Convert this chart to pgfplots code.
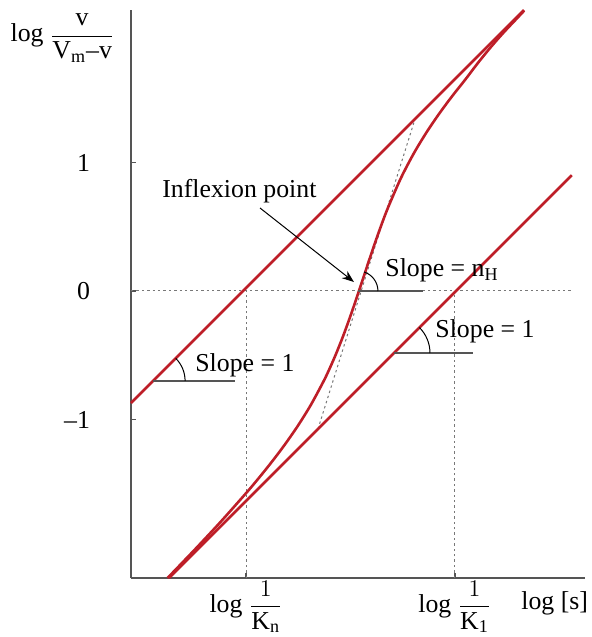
\documentclass[border=0pt]{standalone}
\usepackage{pgfplots}
\pgfplotsset{compat=1.18}
\usepackage{amsmath}
\usepackage{fontspec}
\setmainfont{Liberation Serif}
\usetikzlibrary{arrows.meta}
\definecolor{curvered}{RGB}{190,30,40}
\definecolor{axisgray}{RGB}{85,85,85}
\definecolor{guidegray}{RGB}{120,120,120}

\begin{document}
\begin{tikzpicture}[font=\fontsize{12.9}{15.5}\selectfont]
\useasboundingbox (-65.5pt,-29.5pt) rectangle (230pt,289pt);
\begin{axis}[
  scale only axis, width=227pt, height=284pt,
  xmin=0, xmax=3.533, ymin=-2.2335, ymax=2.1868,
  axis lines=left,
  axis line style={axisgray, line width=1pt, -},
  xtick={0.895,2.52},
  xticklabels={log $\dfrac{1}{\text{K}_{\text{n}}}$, log $\dfrac{1}{\text{K}_{\text{1}}}$},
  ytick={-1,0,1}, yticklabels={–1,0,1},
  tick align=inside, major tick length=2.5pt,
  tick style={axisgray, line width=0.8pt},
  yticklabel style={xshift=-17pt},
  xticklabel style={yshift=2pt},
  clip=false,
]
% reference guides at log v/(Vm-v) = 0 and at the two intercepts
\addplot[guidegray, line width=0.5pt, dash pattern=on 1.2pt off 1.5pt] coordinates {(0,0) (3.43,0)};
\addplot[guidegray, line width=0.5pt, dash pattern=on 1.2pt off 1.5pt] coordinates {(0.895,-2.2335) (0.895,0)};
\addplot[guidegray, line width=0.5pt, dash pattern=on 1.2pt off 1.5pt] coordinates {(2.52,-2.2335) (2.52,0)};
% tangent at the inflexion point
\addplot[guidegray, line width=0.5pt, dash pattern=on 1.2pt off 1.5pt] coordinates {(1.455,-1.074) (2.21,1.338)};

% asymptotes (slope 1)
\addplot[curvered, line width=1.3pt] coordinates {(0,-0.872) (3.058,2.186)};
\addplot[curvered, line width=1.3pt] coordinates {(0.296,-2.233) (3.43,0.901)};

% Hill plot of the cooperative binding curve
\addplot[curvered, line width=1.3pt, smooth] coordinates {
  (0.285,-2.2328) (0.5,-2.0086) (0.7,-1.7936) (0.9,-1.5680) (1.0,-1.4490)
  (1.1,-1.3241) (1.2,-1.1911) (1.3,-1.0468) (1.4,-0.8856) (1.5,-0.6996)
  (1.55,-0.5941) (1.6,-0.4786) (1.65,-0.3526) (1.7,-0.2160) (1.75,-0.0712)
  (1.8,0.0792) (1.85,0.2304) (1.9,0.3780) (1.95,0.5182) (2.0,0.6486)
  (2.1,0.8777) (2.2,1.0697) (2.3,1.2351) (2.4,1.3824) (2.5,1.5173)
  (2.6,1.6436) (2.7,1.775) (2.8,1.898) (2.9,2.012) (3.0,2.118) (3.06,2.182)
};

% slope markers
\addplot[axisgray, line width=0.9pt] coordinates {(1.766,0) (2.272,0)};
\addplot[axisgray, line width=0.9pt] coordinates {(2.0465,-0.4825) (2.661,-0.4825)};
\addplot[axisgray, line width=0.9pt] coordinates {(0.172,-0.70) (0.809,-0.70)};
\draw[black, line width=0.5pt] (axis cs:1.766,0) ++(10pt,0pt) arc[start angle=0, end angle=72, radius=10pt];
\draw[black, line width=0.5pt] (axis cs:2.0465,-0.4825) ++(18pt,0pt) arc[start angle=0, end angle=45, radius=18pt];
\draw[black, line width=0.5pt] (axis cs:0.172,-0.70) ++(16pt,0pt) arc[start angle=0, end angle=45, radius=16pt];

\node[anchor=base west, inner sep=0] at (axis cs:1.977,0.109) {Slope = $\text{n}_{\text{H}}$};
\node[anchor=base west, inner sep=0] at (axis cs:2.366,-0.358) {Slope = 1};
\node[anchor=base west, inner sep=0] at (axis cs:0.498,-0.623) {Slope = 1};
\node[anchor=base west, inner sep=0] at (axis cs:0.241,0.724) {Inflexion point};
\draw[black, line width=0.5pt, -{Stealth[length=6pt, width=4.5pt]}] (axis cs:1.004,0.646) -- (axis cs:1.735,0.07);

% axis titles
\node[anchor=west, inner sep=0] at (axis cs:-0.94,1.969) {log $\dfrac{\text{v}}{\text{V}_{\text{m}}\text{–v}}$};
\node[anchor=base west, inner sep=0] at (axis cs:3.035,-2.482) {log [s]};
\end{axis}
\end{tikzpicture}
\end{document}
